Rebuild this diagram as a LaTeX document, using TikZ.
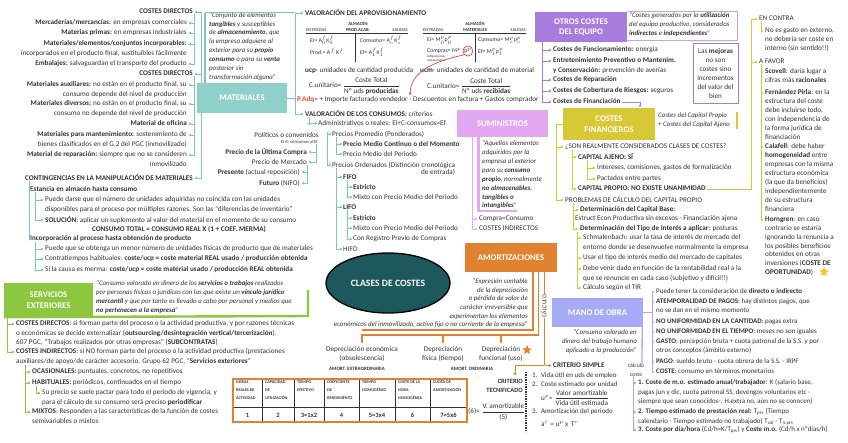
\documentclass[tikz,border=0pt]{standalone}
\usepackage{amsmath}
\usepackage{fontspec}
\setmainfont{Carlito}
\usepackage{xcolor}
\usetikzlibrary{arrows.meta,positioning,calc,shapes.geometric}

\definecolor{ink}{HTML}{333333}
\definecolor{tealC}{HTML}{8FD0CB}
\definecolor{tealL}{HTML}{7CC6C1}
\definecolor{limeC}{HTML}{8DC63F}
\definecolor{orchidC}{HTML}{E3A8EF}
\definecolor{purpleC}{HTML}{A77CDC}
\definecolor{goldC}{HTML}{D7C935}
\definecolor{orangeC}{HTML}{E0822F}
\definecolor{blueC}{HTML}{A6ABF6}
\definecolor{ellC}{HTML}{1C585C}
\definecolor{redC}{HTML}{E8453C}
\definecolor{starC}{HTML}{F6C21B}

\begin{document}
\begin{tikzpicture}[x=1pt, y=-1pt,
    txt/.style={inner sep=0pt, text=ink, font=\fontsize{7.2}{9.3}\selectfont, align=left},
    rtxt/.style={txt, align=right},
    liw/.style={txt, anchor=north west, yshift=3.5pt},
    lie/.style={rtxt, anchor=north east, yshift=3.5pt},
    lic/.style={liw, font=\fontsize{7.2}{8.9}\selectfont},
    lis/.style={liw, font=\fontsize{7}{9.3}\selectfont},
    qtxt/.style={txt, font=\itshape\fontsize{6.9}{8.9}\selectfont},
    tinytxt/.style={txt, font=\fontsize{4.6}{6}\selectfont},
    tval/.style={txt, font=\fontsize{5.8}{7}\selectfont},
    thd/.style={txt, font=\bfseries\fontsize{4.2}{7.8}\selectfont},
    tnum/.style={txt, font=\bfseries\fontsize{6.5}{8}\selectfont},
    cat/.style={inner sep=0pt, text=white, font=\bfseries\fontsize{8.7}{10.5}\selectfont, align=center},
    arr/.style={draw=#1, line width=0.9pt, -{Triangle[length=2.4pt,width=2.8pt]}, shorten >=0.6pt},
    ln/.style={draw=#1, line width=0.9pt},
    bar/.style={draw=#1, line width=2.4pt},
]
    \fill[white] (0,0) rectangle (848,442);
    \useasboundingbox (0,0) rectangle (848,442);

    % Materiales
    \node[cat, fill=tealC, minimum width=90pt, minimum height=30pt] (materiales) at (242,98) {MATERIALES};
    \node[qtxt, anchor=north west] (matq) at (209,12) {``Conjunto de elementos\\\textbf{tangibles} y susceptibles\\de \textbf{almacenamiento}, que\\la empresa adquiere al\\exterior para su \textbf{propio}\\\textbf{consumo} o para su \textbf{venta}\\posterior sin\\transformación alguna''};

    \node[lie] (cdA) at (193,12) {\textbf{COSTES DIRECTOS}};
    \node[lie] (merc) at (187,23) {\textbf{Mercaderías/mercancías:} en empresas comerciales};
    \node[lie] (mprim) at (187,33) {\textbf{Materias primas:} en empresas industriales};
    \node[lie] (minc) at (187,44) {\textbf{Materiales/elementos/conjuntos incorporables:}\\incorporados en el producto final, sustituibles fácilmente};
    \node[lie] (emb) at (187,64) {\textbf{Embalajes:} salvaguardan el transporte del producto};
    \node[lie] (cdB) at (193,74) {\textbf{COSTES DIRECTOS}};
    \node[lie] (maux) at (187,85) {\textbf{Materiales auxiliares:} no están en el producto final, su\\consumo depende del nivel de producción};
    \node[lie] (mdiv) at (187,104) {\textbf{Materiales diversos:} no están en el producto final, su\\consumo no depende del nivel de producción};
    \node[lie] (mofi) at (187,124) {\textbf{Material de oficina}};
    \node[lie] (mman) at (187,135) {\textbf{Materiales para mantenimiento:} sostenimiento de\\bienes clasificados en el G.2 del PGC (inmovilizado)};
    \node[lie] (mrep) at (187,155) {\textbf{Material de reparación:} siempre que no se consideren\\inmovilizado};
    \node[lie] (cont) at (193,178) {\textbf{CONTINGENCIAS EN LA MANIPULACIÓN DE MATERIALES}};

    \draw[bar=tealL] ([xshift=8pt]materiales.north west) -- ++(0,-70);
    \draw[ln=tealL] ([xshift=8pt,yshift=70pt]materiales.north west) -- ++(90,0);
    \draw[arr=tealL] ([xshift=5pt]materiales.north west) |- ([xshift=1pt,yshift=-3.5pt]cdA.north east);
    \draw[arr=tealL] ([xshift=5pt]materiales.north west) |- ([xshift=1pt,yshift=-3.5pt]cdB.north east);
    \draw[arr=tealL] ([xshift=5pt]materiales.south west) |- ([xshift=1pt,yshift=-3.5pt]cont.north east);
    \foreach \n in {merc,mprim,minc,emb}
        \draw[arr=tealL] ([xshift=1pt]cdA.south east) |- ([xshift=1pt,yshift=-3.5pt]\n.north east);
    \foreach \n in {maux,mdiv,mofi,mman,mrep}
        \draw[arr=tealL] ([xshift=1pt]cdB.south east) |- ([xshift=1pt,yshift=-3.5pt]\n.north east);

    % Contingencias
    \node[liw] (est) at (30,190) {\textbf{Estancia en almacén hasta consumo}};
    \node[liw] (est1) at (45,200) {Puede darse que el número de unidades adquiridas no coincida con las unidades\\disponibles para el proceso por múltiples razones. Son las ``diferencias de inventario''};
    \node[liw] (sol) at (45,220) {\textbf{SOLUCIÓN}: aplicar un suplemento al valor del material en el momento de su consumo};
    \node[txt, font=\bfseries\fontsize{7.2}{9.3}\selectfont] (merma) at (179,229) {CONSUMO TOTAL = CONSUMO REAL X (1 + COEF. MERMA)};
    \node[liw] (inc) at (30,239) {\textbf{Incorporación al proceso hasta obtención de producto}};
    \node[liw] (inc1) at (45,249) {Puede que se obtenga un menor número de unidades físicas de producto que de materiales};
    \node[liw] (inc2) at (45,259) {Contratiempos habituales: \textbf{coste/ucp = coste material REAL usado / producción obtenida}};
    \node[liw] (inc3) at (45,270) {Si la causa es merma: \textbf{coste/ucp = coste material usado / producción REAL obtenida}};
    \foreach \n in {est,inc}
        \draw[arr=tealL] ([xshift=5pt]cont.south west) |- ([xshift=-1pt,yshift=-3.5pt]\n.north west);
    \foreach \n in {est1,sol}
        \draw[arr=tealL] ([xshift=5pt]est.south west) |- ([xshift=-1pt,yshift=-3.5pt]\n.north west);
    \foreach \n in {inc1,inc2,inc3}
        \draw[arr=tealL] ([xshift=5pt]inc.south west) |- ([xshift=-1pt,yshift=-3.5pt]\n.north west);

    % Servicios exteriores
    \node[cat, fill=limeC, minimum width=89pt, minimum height=34pt] (servicios) at (48.5,300) {SERVICIOS\\EXTERIORES};
    \node[qtxt, anchor=north west] (servq) at (96,280.5) {``Consumo valorado en dinero de los \textbf{servicios o trabajos} realizados\\por personas físicas o jurídicas con las que existe un \textbf{vínculo jurídico}\\\textbf{mercantil} y que por tanto es llevado a cabo por personal y medios que\\\textbf{no pertenecen a la empresa}''};
    \coordinate (servcorner) at (308,316);
    \draw[bar=limeC] (servicios.south west) -- (servcorner) -- ++(0,-26);
    \node[liw] (sdir) at (16,324) {\textbf{COSTES DIRECTOS}: si forman parte del proceso o la actividad productiva, y por razones técnicas\\o económicas se decide externalizar (\textbf{outsourcing/desintegración vertical/tercerización}).\\607 PGC, ``Trabajos realizados por otras empresas'' (\textbf{SUBCONTRATAS})};
    \node[liw] (sind) at (16,352) {\textbf{COSTES INDIRECTOS}: si NO forman parte del proceso o la actividad productiva (prestaciones\\auxiliares/de apoyo/de carácter accesorio. Grupo 62 PGC, ``\textbf{Servicios exteriores}''};
    \node[liw] (oca) at (32,372) {\textbf{OCASIONALES:} puntuales, concretos, no repetitivos};
    \node[liw] (hab) at (32,383) {\textbf{HABITUALES:} periódicos, continuados en el tiempo};
    \node[liw] (hab1) at (42,393) {Su precio se suele pactar para todo el periodo de vigencia, y\\para el cálculo de su consumo será preciso \textbf{periodificar}};
    \node[liw] (mix) at (32,412) {\textbf{MIXTOS}: Responden a las características de la función de costes\\semivariables o mixtos};
    \foreach \n in {sdir,sind}
        \draw[arr=limeC] ([xshift=4pt]servicios.south west) |- ([xshift=-1pt,yshift=-3.5pt]\n.north west);
    \foreach \n in {oca,hab,mix}
        \draw[arr=limeC] ([xshift=9pt]sind.south west) |- ([xshift=-1pt,yshift=-3.5pt]\n.north west);
    \draw[arr=limeC] ([xshift=4pt]hab.south west) |- ([xshift=-1pt,yshift=-3.5pt]hab1.north west);

    % Centre
    \node[ellipse, draw=black, line width=1.3pt, fill=ellC, minimum width=124pt, minimum height=60pt, text=white, font=\bfseries\fontsize{9.7}{11}\selectfont] (clases) at (388,283) {CLASES DE COSTES};

    % Valoracion del aprovisionamiento
    \node[liw] (vap) at (305,13) {\textbf{VALORACIÓN DEL APROVISIONAMIENTO}};
    \node[tinytxt, font=\bfseries\fontsize{4.6}{6.5}\selectfont, align=center] (almA) at (358,26.5) {ALMACÉN\\PROD.ACAB.};
    \node[tinytxt, anchor=west] (entA) at (306,30) {ENTRADAS};
    \node[tinytxt, anchor=east] (salA) at (408,30) {SALIDAS};
    \draw[ink, line width=0.8pt] (306,33) -- (408,33) (355,33) -- (355,62);
    \node[tval, anchor=west] (eiA) at (310,40.5) {Ei= A$_0^f$K$_0^f$};
    \node[tval, anchor=west] (prodA) at (310,52) {Prod.= A$^f$ K$^f$};
    \node[tval, anchor=west] (conA) at (360,40.5) {Consumo= A$_c^f$K$_c^f$};
    \node[tval, anchor=west] (efA) at (360,52) {Ef= A$_1^f$K$_1^f$};

    \node[tinytxt, font=\bfseries\fontsize{4.6}{6.5}\selectfont, align=center] (almB) at (475,26.5) {ALMACÉN\\MATERIALES};
    \node[tinytxt, anchor=west] (entB) at (423,30) {ENTRADAS};
    \node[tinytxt, anchor=east] (salB) at (526,30) {SALIDAS};
    \draw[ink, line width=0.8pt] (423,33) -- (526,33) (475,33) -- (475,62);
    \node[tval, anchor=west] (eiB) at (427,40.5) {Ei= M$_0^p$p$_0^p$};
    \node[tval, anchor=west] (comB) at (427,51) {Compras= M$^p$};
    \node[tval, circle, draw=redC, line width=0.7pt, inner sep=0.3pt, right=1pt of comB] (pp) {p$^p$};
    \node[txt, font=\fontsize{3.3}{3.7}\selectfont, anchor=north west] (adq) at (427,55.5) {Adquisiciones\\Imputaciones};
    \node[tval, anchor=west] (conB) at (478,40.5) {Consumo= M$_c^p$p$_c^p$};
    \node[tval, anchor=west] (efB) at (478,52) {Ef= M$_1^p$p$_1^p$};

    \node[liw] (ucp) at (305,71) {\textbf{ucp}- unidades de cantidad producida};
    \node[liw] (ucm) at (420,71) {\textbf{ucm}- unidades de cantidad de material};
    \node[txt, anchor=west] (cuA) at (309,86) {C.unitario= $\dfrac{\text{Coste Total}}{\text{Nº uds \textbf{producidas}}}$};
    \node[txt, anchor=west] (cuB) at (427,86) {C.unitario= $\dfrac{\text{Coste Total}}{\text{Nº uds \textbf{recibidas}}}$};
    \node[liw] (padq) at (297,100) {\textcolor{redC}{\textbf{P.Adq}}= + Importe facturado vendedor - Descuentos en factura + Gastos comprador};
    \coordinate (padqtip) at (410,95);
    \draw[redC, line width=0.7pt, -{Triangle[length=2.4pt,width=2.8pt]}] (pp.south west) .. controls (432,62) and (411,72) .. (padqtip);

    % Valoracion de los consumos
    \node[liw] (vcons) at (305,114) {\textbf{VALORACIÓN DE LOS CONSUMOS:} criterios};
    \draw[arr=tealL] (materiales.east) -- ++(8,0) |- ([xshift=-1pt,yshift=-3.5pt]vap.north west);
    \draw[arr=tealL] (materiales.east) -- ++(8,0) |- ([xshift=-1pt,yshift=-3.5pt]vcons.north west);
    \node[liw] (adm) at (318,124) {Administrativos o reales: Ei+C-consumos=Ef};
    \node[txt, anchor=east] (pol) at (319,135) {Políticos o convenidos};
    \node[tinytxt, anchor=east] (polsub) at (318,142) {Ei+C-consumos$\neq$Ef};
    \node[txt, anchor=west] (prom) at (332,134) {Precios Promedio (Ponderados)};
    \node[txt, anchor=west] (pmc) at (343,144) {\textbf{Precio Medio Continuo o del Momento}};
    \node[txt, anchor=west] (pmp) at (343,154) {Precio Medio del Periodo};
    \node[txt, anchor=west] (ord) at (332,165) {Precios Ordenados (Distinción cronológica};
    \node[txt, anchor=north east] (ord2) at ([yshift=-1pt]ord.south east) {de entrada)};
    \node[txt, anchor=east] (ult) at (307,152) {\textbf{Precio de la Última Compra}};
    \node[txt, anchor=east] (pmer) at (307,162) {Precio de Mercado};
    \node[txt, anchor=east] (pres) at (300,172) {\textbf{Presente} (actual reposición)};
    \node[txt, anchor=east] (fut) at (300,183) {\textbf{Futuro} (NIFO)};
    \node[txt, anchor=west] (fifo) at (343,177) {\textbf{FIFO}};
    \node[txt, anchor=west] (fe) at (353,187) {\textbf{Estricto}};
    \node[txt, anchor=west] (fm) at (353,197) {Mixto con Precio Medio del Periodo};
    \node[txt, anchor=west] (lifo) at (343,207) {\textbf{LIFO}};
    \node[txt, anchor=west] (le) at (353,218) {\textbf{Estricto}};
    \node[txt, anchor=west] (lm) at (353,228) {Mixto con Precio Medio del Periodo};
    \node[txt, anchor=west] (lr) at (353,239) {Con Registro Previo de Compras};
    \node[txt, anchor=west] (hifo) at (343,249) {HIFO};

    \draw[arr=tealL] ([xshift=4pt]vcons.south west) |- (adm.west);
    \draw[arr=tealL] ([xshift=4pt]vcons.south west) -- ++(0,9);
    \foreach \n in {prom,ord}
        \draw[arr=tealL] ([xshift=8pt]pol.north east) |- (\n.west);
    \foreach \n in {ult,pmer}
        \draw[arr=tealL] ([xshift=-2pt]polsub.south east) |- ([xshift=1pt]\n.east);
    \foreach \n in {pres,fut}
        \draw[arr=tealL] (pmer.south east) |- ([xshift=1pt]\n.east);
    \foreach \n in {pmc,pmp}
        \draw[arr=tealL] ([xshift=4pt]prom.south west) |- (\n.west);
    \foreach \n in {fifo,lifo,hifo}
        \draw[arr=tealL] ([xshift=4pt]ord.south west) |- (\n.west);
    \foreach \n in {fe,fm}
        \draw[arr=tealL] ([xshift=4pt]fifo.south west) |- (\n.west);
    \foreach \n in {le,lm,lr}
        \draw[arr=tealL] ([xshift=4pt]lifo.south west) |- (\n.west);

    % Suministros
    \node[cat, fill=orchidC, minimum width=91pt, minimum height=27pt] (suministros) at (502.5,123.5) {SUMINISTROS};
    \node[qtxt, anchor=north west] (sumq) at (482,140.5) {``Aquellos elementos\\adquiridos por la\\empresa al exterior\\para su \textbf{consumo}\\\textbf{propio}, normalmente\\\textbf{no almacenables},\\\textbf{tangibles o}\\\textbf{intangibles}''};
    \draw[bar=orchidC] (478.5,137) -- (478.5,211) -- (517,211);
    \node[liw] (cc) at (479,219) {Compra=Consumo};
    \node[liw] (ci) at (479,229) {COSTES INDIRECTOS};
    \foreach \n in {cc,ci}
        \draw[arr=orchidC] ([xshift=16pt]suministros.south west) |- ([xshift=-1pt,yshift=-3.5pt]\n.north west);

    % Otros costes del equipo
    \node[cat, fill=purpleC, minimum width=92pt, minimum height=30pt] (otros) at (581,27) {OTROS COSTES\\DEL EQUIPO};
    \node[qtxt, anchor=north west] (otq) at (629,12.5) {``Costes generados por la \textbf{utilización}\\del equipo productivo, considerados\\\textbf{indirectos} e \textbf{independientes}''};
    \draw[purpleC!70, line width=0.8pt] (otros.north east) -| (737,40) -- (otros.south east |- 0,40);
    \node[liw] (of1) at (553,50) {\textbf{Costes de Funcionamiento:} energía};
    \node[liw] (of2) at (553,61) {\textbf{Entretenimiento Preventivo o Mantenim.}\\\textbf{y Conservación:} prevención de averías};
    \node[liw] (of3) at (553,80) {\textbf{Costes de Reparación}};
    \node[liw] (of4) at (553,91) {\textbf{Costes de Cobertura de Riesgos:} seguros};
    \node[liw] (of5) at (553,102) {\textbf{Costes de Financiación}};
    \foreach \n in {of1,of2,of3,of4,of5}
        \draw[arr=purpleC] ([xshift=8pt]otros.south west) |- ([xshift=-1pt,yshift=-3.5pt]\n.north west);
    \node[txt, draw=purpleC, line width=1pt, align=center, minimum width=45pt, minimum height=60pt, font=\fontsize{7.2}{9}\selectfont] (mejoras) at (715.5,73) {Las \textbf{mejoras}\\no son\\costes sino\\incrementos\\del valor del\\bien};

    % Costes financieros
    \node[cat, fill=goldC, minimum width=92pt, minimum height=32pt] (cfin) at (609,124) {COSTES\\FINANCIEROS};
    \node[qtxt, anchor=north west] (cfq) at (658,112.5) {Costes del Capital Propio\\+ Costes del Capital Ajeno};
    \draw[bar=goldC] (737,112) -- (737,129);
    \draw[arr=purpleC] ([xshift=1pt,yshift=-3.5pt]of5.north east) -| ([xshift=31pt]cfin.north);

    \node[liw] (son) at (565,147) {¿SON REALMENTE CONSIDERADOS CLASES DE COSTES?};
    \node[liw] (caj) at (578,157) {\textbf{CAPITAL AJENO: SÍ}};
    \node[liw] (int) at (597,168) {Intereses, comisiones, gastos de formalización};
    \node[liw] (pac) at (597,179) {Pactados entre partes};
    \node[liw] (cpr) at (578,189) {\textbf{CAPITAL PROPIO: NO EXISTE UNANIMIDAD}};
    \node[liw] (prob) at (565,200) {PROBLEMAS DE CÁLCULO DEL CAPITAL PROPIO};
    \node[liw] (dcb) at (580,210) {\textbf{Determinación del Capital Base:}};
    \node[liw] (estr) at (575,219) {Estruct Econ Productiva sin excesos - Financiación ajena};
    \node[liw] (dti) at (580,229) {\textbf{Determinación del Tipo de Interés a aplicar:} posturas};
    \node[liw] (sa) at (583,238) {Schmalenbach: usar la tasa de interés de mercado del\\entorno donde se desenvuelve normalmente la empresa};
    \node[liw] (sb) at (583,258) {Usar el tipo de interés medio del mercado de capitales};
    \node[liw] (sc) at (583,269) {Debe venir dado en función de la rentabilidad real a la\\que se renuncie en cada caso (subjetivo y difícil!!)};
    \node[liw] (sd) at (583,288) {Cálculo según el TIR};
    \foreach \n in {son,prob}
        \draw[arr=goldC] (cfin.west) -- ++(-6,0) |- ([xshift=-1pt,yshift=-3.5pt]\n.north west);
    \foreach \n in {caj,cpr}
        \draw[arr=goldC] ([xshift=7pt]son.south west) |- ([xshift=-1pt,yshift=-3.5pt]\n.north west);
    \foreach \n in {int,pac}
        \draw[arr=goldC] ([xshift=9pt]caj.south west) |- ([xshift=-1pt,yshift=-3.5pt]\n.north west);
    \foreach \n in {dcb,dti}
        \draw[arr=goldC] ([xshift=8pt]prob.south west) |- ([xshift=-1pt,yshift=-3.5pt]\n.north west);
    \foreach \n in {sa,sb,sc,sd}
        \draw[arr=goldC] ([xshift=-3pt]dti.south west) |- ([xshift=-1pt,yshift=-3.5pt]\n.north west);

    % Opiniones
    \node[lic] (encontra) at (759,19) {EN CONTRA};
    \node[lic] (eca) at (765,31) {No es gasto en externo,\\no debería ser coste en\\interno (sin sentido!!)};
    \node[lic] (afavor) at (759,62) {A FAVOR};
    \node[lic] (sco) at (765,72) {\textbf{Scovell}: daría lugar a\\cifras más \textbf{racionales}};
    \node[lic] (fer) at (765,93) {\textbf{Fernández Pirla}: en la\\estructura del coste\\debe incluirse todo,\\con independencia de\\la forma jurídica de\\financiación};
    \node[lic] (cal) at (765,147) {\textbf{Calafell}: debe haber\\\textbf{homogeneidad} entre\\empresas con la misma\\estructura económica\\(la que da beneficios)\\independientemente\\de su estructura\\financiera};
    \node[lic] (hor) at (765,220) {\textbf{Horngren}: en caso\\contrario se estaría\\ignorando la renuncia a\\los posibles beneficios\\obtenidos en otras\\inversiones (\textbf{COSTE DE}\\\textbf{OPORTUNIDAD})};
    \node[star, star points=5, star point ratio=2.3, fill=starC, minimum size=10pt, inner sep=0pt] (starA) at (824,272) {};
    \draw[arr=goldC] ([xshift=1pt,yshift=-3.5pt]cpr.north east) -| ([xshift=-8pt,yshift=-3.5pt]encontra.north west) -- ([xshift=-1pt,yshift=-3.5pt]encontra.north west);
    \draw[arr=goldC] ([xshift=-8pt,yshift=-3.5pt]encontra.north west) |- ([xshift=-1pt,yshift=-3.5pt]afavor.north west);
    \draw[arr=goldC] ([xshift=2pt]encontra.south west) |- ([xshift=-1pt,yshift=-3.5pt]eca.north west);
    \foreach \n in {sco,fer,cal,hor}
        \draw[arr=goldC] ([xshift=2pt]afavor.south west) |- ([xshift=-1pt,yshift=-3.5pt]\n.north west);

    % Amortizaciones
    \node[cat, fill=orangeC, minimum width=92pt, minimum height=29pt] (amort) at (511,257.5) {AMORTIZACIONES};
    \node[qtxt, align=right, anchor=north east, font=\itshape\fontsize{6.9}{8.6}\selectfont] (amq) at (528,278.5) {``Expresión contable\\de la depreciación\\o pérdida de valor de\\carácter irreversible que\\experimentan los elementos\\económicos del inmovilizado, activo fijo o no corriente de la empresa''};
    \draw[bar=orangeC] (533,272) -- (533,330) -- (362,330);
    \coordinate (distO) at (538.5,335);
    \draw[ln=orangeC, line width=1.2pt] (amort.south -| distO) -- (distO);
    \node[txt, align=center, anchor=north] (dec) at (362,346) {Depreciación económica\\(obsolescencia)};
    \node[txt, align=center, anchor=north] (dfi) at (443,346) {Depreciación\\física (tiempo)};
    \node[txt, align=center, anchor=north] (dfu) at (501,346) {Depreciación\\funcional (uso)};
    \node[star, star points=5, star point ratio=2.3, fill=orangeC, minimum size=10pt, inner sep=0pt] (starB) at (527,350) {};
    \foreach \n in {dec,dfi,dfu}
        \draw[arr=orangeC, line width=1.2pt] (distO) -| ([yshift=2pt]\n.north);
    \node[txt, font=\bfseries\fontsize{5}{6}\selectfont] (aex) at (357,369) {AMORT. EXTRAORDINARIA};
    \node[txt, font=\bfseries\fontsize{5}{6}\selectfont] (aor) at (472,369) {AMORT. ORDINARIA};

    % Tabla criterio tecnificado
    \draw[ink, line width=0.5pt] (233,407) -- (467,407);
    \foreach \xa in {262,294,324,359,395,430}
        \draw[ink, line width=0.7pt] (\xa,379) -- (\xa,422);
    \draw[orangeC, line width=1.3pt] (233,379) rectangle (467,422);
    \foreach \xa/\xb/\hd/\nm [count=\i] in {233/262/{HORAS\\REALES DE\\ACTIVIDAD}/1, 262/294/{CAPACIDAD\\DE\\UTILIZACIÓN}/2, 294/324/{TIEMPO\\EFECTIVO}/3=1x2, 324/359/{COEFICIENTE\\DE\\RENDIMIENTO}/4, 359/395/{TIEMPO\\HOMOGÉNEO}/5=3x4, 395/430/{COSTE DE LA\\HORA\\HOMOGÉNEA}/6, 430/467/{CUOTA DE\\AMORTIZACIÓN}/7=5x6}
    {
        \node[thd, anchor=north west] (th\i) at (\xa+3,381) {\hd};
        \node[tnum] (tn\i) at ({(\xa+\xb)/2},415) {\nm};
    }
    \node[txt, anchor=west] (fsix) at (468,412) {(6)= $\dfrac{\text{V. amortizable}}{\text{(5)}}$};
    \node[rtxt, anchor=north east, font=\bfseries\fontsize{6.5}{9}\selectfont] (ctec) at (523,379) {CRITERIO\\TECNIFICADO};
    \draw[ink, line width=1.6pt, dash pattern=on 1.4pt off 1pt] (526,372) -- (526,432);

    % Calculo
    \coordinate (calcO) at (544,365);
    \draw[ln=orangeC] (amort.south -| calcO) -- (calcO);
    \node[txt, rotate=90, fill=white, inner sep=1pt, font=\fontsize{6}{7}\selectfont] (calcl) at (544,306) {CÁLCULO};
    \node[liw] (csimple) at (553,366) {\textbf{CRITERIO SIMPLE}};
    \draw[arr=orangeC] (calcO) -- ([xshift=-1pt,yshift=-3.5pt]csimple.north west);
    \draw[arr=orangeC] (calcO) -| ([xshift=-8pt,yshift=3pt]ctec.north east);
    \node[lis] (csa) at (532,376) {1.\enspace Vida útil en uds de empleo};
    \node[lis] (csb) at (532,385) {2.\enspace Coste estimado por unidad};
    \node[txt, anchor=west] (csc) at (541,398) {u$^{p}$= $\dfrac{\text{Valor amortizable}}{\text{Vida útil estimada}}$};
    \node[lis] (csd) at (532,412) {3.\enspace Amortización del periodo};
    \node[txt, anchor=west] (cse) at (541,424) {a$^{r}$ = u$^{p}$ x\, T$^{r}$};

    % Mano de obra
    \node[cat, fill=blueC, minimum width=91pt, minimum height=29pt] (mobox) at (597.5,312.5) {MANO DE OBRA};
    \node[qtxt, align=right, anchor=north east] (moq) at (637,329.5) {``Consumo valorado en\\dinero del trabajo humano\\aplicado a la producción''};
    \node[txt, align=center, font=\fontsize{5.8}{8.5}\selectfont] (ccoste) at (636,370) {cálculo\\coste};
    \draw[ln=blueC, line width=1.3pt] ([xshift=-1pt]mobox.south east) -- ([xshift=6pt]ccoste.north);
    \node[lis] (mba) at (656,292) {Puede tener la consideración de \textbf{directo o indirecto}};
    \node[lis] (mbb) at (656,302) {\textbf{ATEMPORALIDAD DE PAGOS}: hay distintos pagos, que\\no se dan en el mismo momento};
    \node[lis] (mbc) at (656,322) {\textbf{NO UNIFORMIDAD EN LA CANTIDAD}: pagas extra};
    \node[lis] (mbd) at (656,332) {\textbf{NO UNIFORMIDAD EN EL TIEMPO}: meses no son iguales};
    \node[lis] (mbe) at (656,342) {\textbf{GASTO}: percepción bruta + cuota patronal de la S.S. y por\\otros conceptos (ámbito externo)};
    \node[lis] (mbf) at (656,362) {\textbf{PAGO}: sueldo bruto - cuota obrera de la S.S. - IRPF};
    \node[lis] (mbg) at (656,372) {\textbf{COSTE}: consumo en términos monetarios};
    \foreach \n in {mba,mbb,mbc,mbd,mbe,mbf,mbg}
        \draw[arr=blueC] (mobox.east) -- ++(9,0) |- ([xshift=-1pt,yshift=-3.5pt]\n.north west);
    \node[lis] (moa) at (638,383) {\textbf{1. Coste de m.o. estimado anual/trabajador}: K (salario base,\\pagas jun y dic, cuota patronal SS, devengos voluntarios etc -\\siempre que sean conocidos-. H.extra no, aún no se conocen)};
    \node[lis] (mob) at (638,412) {\textbf{2. Tiempo estimado de prestación real:} T$_{\text{prs}}$ (Tiempo\\calendario - Tiempo estimado no trabajado) T$_{\text{cal}}$ - T$_{\text{n.prs}}$};
    \node[lis] (moc) at (638,430) {\textbf{3. Coste por día/hora} (Cd/h=K/T$_{\text{prs}}$) y \textbf{Coste m.o.} (Cd/h x nºdías/h)};
    \foreach \n in {moa,mob,moc}
        \draw[arr=blueC] ([xshift=-3pt]ccoste.south) |- ([xshift=-1pt,yshift=-3.5pt]\n.north west);

\end{tikzpicture}
\end{document}
